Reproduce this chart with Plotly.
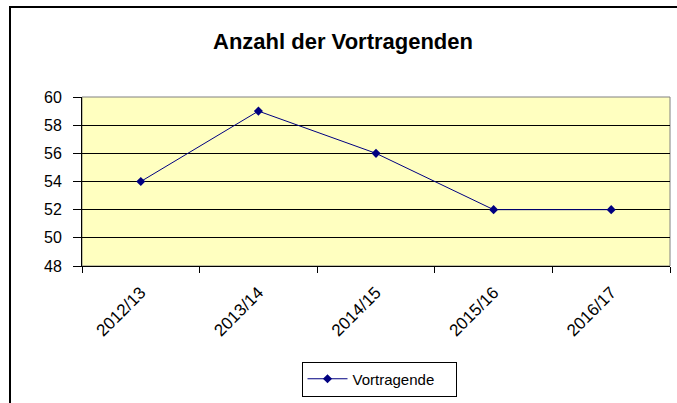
import plotly.graph_objects as go

categories = ["2012/13", "2013/14", "2014/15", "2015/16", "2016/17"]
values = [54, 59, 56, 52, 52]
series_name = "Vortragende"
title_text = "Anzahl der Vortragenden"

W, H = 677, 403
L, R, T, B = 82, 7, 97, 137
pw = W - L - R
ph = H - T - B

fig = go.Figure()
fig.add_trace(go.Scatter(
    x=list(range(len(categories))), y=values, name=series_name,
    mode="lines+markers",
    line=dict(color="#000080", width=1),
    marker=dict(symbol="diamond", size=7, color="#000080"),
    showlegend=True,
))

fig.update_layout(
    width=W, height=H,
    margin=dict(l=L, r=R, t=T, b=B, pad=0),
    paper_bgcolor="white",
    plot_bgcolor="#FFFFC0",
    font=dict(family="Arial, Liberation Sans, sans-serif", color="black", size=13),
    title=dict(text="<b>" + title_text + "</b>", x=(343 - L) / pw, xref="paper",
               xanchor="center", y=1 - 41 / H, yanchor="middle",
               font=dict(size=22, color="black")),
    xaxis=dict(
        range=[-0.5, len(categories) - 0.5],
        tickmode="array", tickvals=list(range(len(categories))), ticktext=categories,
        ticks="", tickangle=-45, showgrid=False, zeroline=False,
        showline=True, linecolor="black", linewidth=1,
        tickfont=dict(size=17), ticklabelstandoff=9,
        minor=dict(tick0=-0.5, dtick=1, ticks="outside", ticklen=6, tickcolor="black",
                   showgrid=False),
    ),
    yaxis=dict(
        range=[48, 60], dtick=2, tick0=48,
        ticks="outside", ticklen=8, tickcolor="black",
        showgrid=True, gridcolor="black", gridwidth=1, zeroline=False,
        showline=True, linecolor="black", linewidth=1,
        tickfont=dict(size=16), ticklabelstandoff=8,
    ),
    legend=dict(
        x=(379 - L) / pw, y=(266 - 379) / ph, xanchor="center", yanchor="middle",
        bordercolor="black", borderwidth=1, bgcolor="white",
        font=dict(size=15), orientation="h", entrywidth=98, itemwidth=40,
    ),
    shapes=[
        dict(type="rect", xref="paper", yref="paper", x0=0, x1=1, y0=0, y1=1,
             line=dict(color="#808080", width=1), layer="below"),
        dict(type="rect", xref="paper", yref="paper",
             x0=(10 - L) / pw, x1=(W + 20 - L) / pw,
             y0=-(H + 20 - T - ph) / ph, y1=1 + (T - 7) / ph,
             line=dict(color="black", width=2), fillcolor="rgba(0,0,0,0)", layer="above"),
    ],
)

fig.write_html("out.html", config={"displayModeBar": False},
               post_script="document.body.style.margin='0';document.body.style.overflow='hidden';")
